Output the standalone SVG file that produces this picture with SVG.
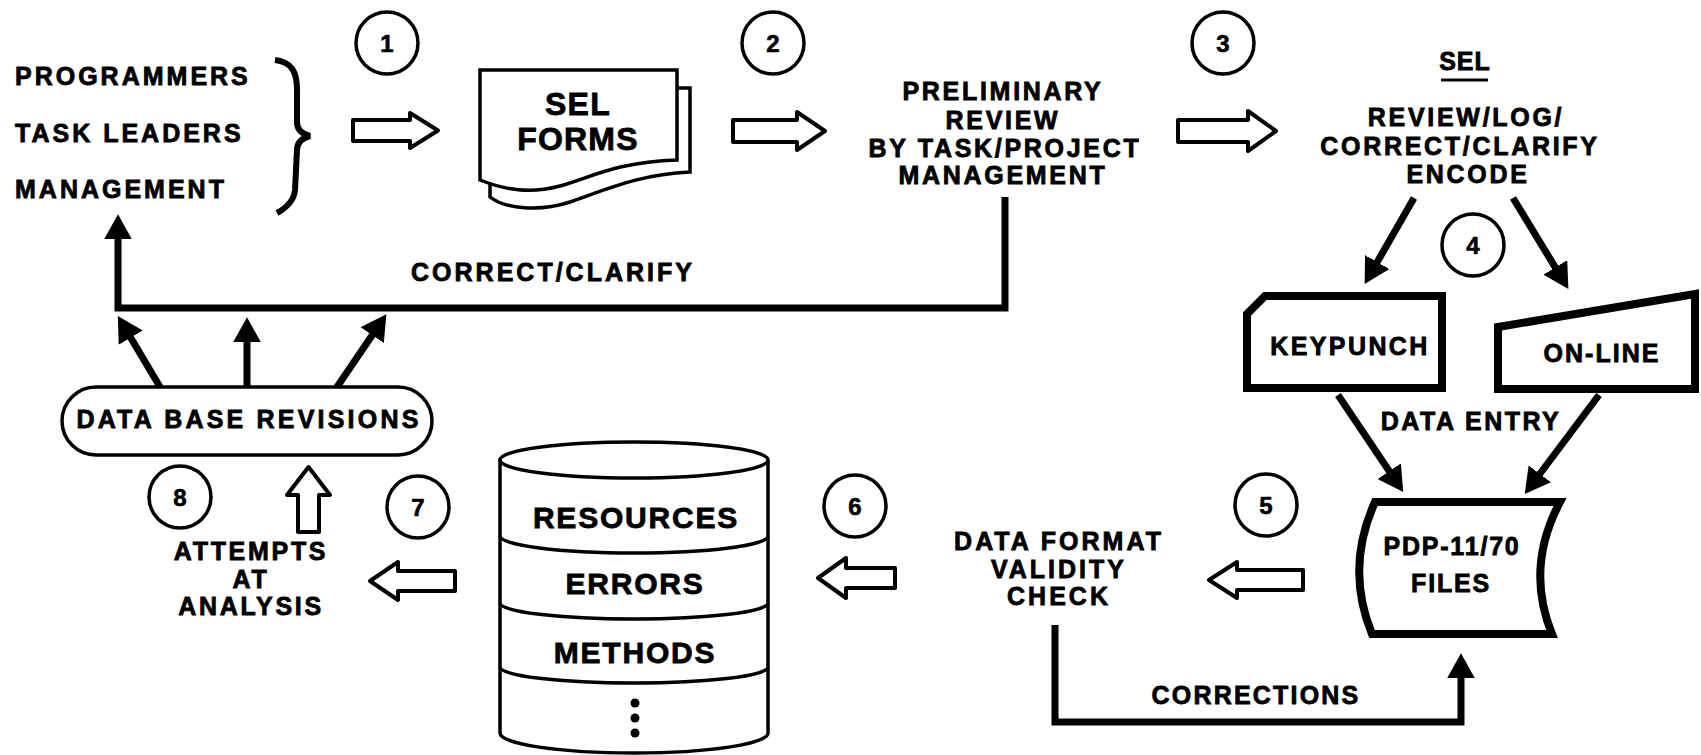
<svg xmlns="http://www.w3.org/2000/svg" width="1701" height="755" viewBox="0 0 1701 755">
<style>
.t{font-family:"Liberation Sans",Arial,sans-serif;font-weight:bold;font-size:25px;fill:#000;stroke:#000;stroke-width:0.8px;letter-spacing:2.7px}
.c{text-anchor:middle}
.num{font-family:"Liberation Sans",Arial,sans-serif;font-weight:bold;font-size:24px;fill:#000;stroke:#000;stroke-width:0.6px;text-anchor:middle}
.ring{fill:none;stroke:#000;stroke-width:3.5}
.hollow{fill:#fff;stroke:#000;stroke-width:4;stroke-linejoin:round}
.thick{fill:none;stroke:#000;stroke-width:7;stroke-linejoin:miter}
.box{fill:#fff;stroke:#000;stroke-width:8;stroke-linejoin:miter}
.thin{fill:#fff;stroke:#000;stroke-width:3.5}
</style>
<defs>
<marker id="ah" markerWidth="4" markerHeight="4" refX="0.2" refY="2" orient="auto" markerUnits="strokeWidth">
<path d="M0,0 L3.6,2 L0,4 Z" fill="#000"/>
</marker>
</defs>
<rect width="1701" height="755" fill="#fff"/>

<g id="sources">
<text class="t" x="15" y="85" style="letter-spacing:3px">PROGRAMMERS</text>
<text class="t" x="15" y="142" style="letter-spacing:3px">TASK LEADERS</text>
<text class="t" x="15" y="198" style="letter-spacing:3px">MANAGEMENT</text>
<path d="M275,60 C292,62 297,72 297,90 L297,122 C297,130 302,134 310,136 C302,138 297,142 297,150 L295,190 C294,200 288,207 277,213" fill="none" stroke="#000" stroke-width="6"/>
</g>

<g id="sel-forms">
<path class="thin" d="M677,88 L690,88 L690,172 C640,174 605,190 570,202 C540,212 505,209 490,197 L490,182"/>
<path class="thin" d="M480,70 L677,70 L677,160 C615,162 590,178 560,186 C530,194 505,190 480,180 Z"/>
<text class="t c" x="578" y="115" style="font-size:32px;letter-spacing:1.2px">SEL</text>
<text class="t c" x="578" y="150" style="font-size:32px;letter-spacing:1.2px">FORMS</text>
</g>

<g id="prelim-review">
<text class="t c" x="1003" y="100">PRELIMINARY</text>
<text class="t c" x="1003" y="129">REVIEW</text>
<text class="t c" x="1005" y="157">BY TASK/PROJECT</text>
<text class="t c" x="1003" y="184">MANAGEMENT</text>
</g>

<g id="sel-review">
<text class="t c" x="1465" y="70" style="letter-spacing:1px">SEL</text>
<line x1="1441" y1="80" x2="1488" y2="80" stroke="#000" stroke-width="3"/>
<text class="t c" x="1466" y="126">REVIEW/LOG/</text>
<text class="t c" x="1460" y="155">CORRECT/CLARIFY</text>
<text class="t c" x="1468" y="183">ENCODE</text>
</g>

<g id="keypunch">
<path class="box" d="M1265,296 L1442,296 L1442,388 L1247,388 L1247,314 Z"/>
<text class="t c" x="1350" y="355" style="letter-spacing:2.4px">KEYPUNCH</text>
</g>

<g id="on-line">
<path class="box" d="M1498,327 L1695,294 L1695,389 L1498,389 Z"/>
<text class="t c" x="1602" y="362" style="letter-spacing:2px">ON-LINE</text>
</g>

<g id="data-entry-label">
<text class="t c" x="1471" y="430" style="letter-spacing:2.5px">DATA ENTRY</text>
</g>

<g id="pdp-files">
<path class="box" d="M1375,502 L1560,502 Q1525,568 1552,634 L1372,634 Q1345,568 1375,502 Z"/>
<text class="t c" x="1452" y="555" style="letter-spacing:1.8px">PDP-11/70</text>
<text class="t c" x="1451" y="592" style="letter-spacing:1.8px">FILES</text>
</g>

<g id="validity-check">
<text class="t c" x="1059" y="550" style="letter-spacing:3px">DATA FORMAT</text>
<text class="t c" x="1059" y="578" style="letter-spacing:3px">VALIDITY</text>
<text class="t c" x="1059" y="605" style="letter-spacing:3px">CHECK</text>
</g>

<g id="database">
<path class="thin" d="M500,460 L500,733 A134 20 0 0 0 768,733 L768,460"/>
<ellipse class="thin" cx="634" cy="460" rx="134" ry="18"/>
<path class="thin" fill="none" d="M500,536 A134 17 0 0 0 768,536"/>
<path class="thin" fill="none" d="M500,603 A134 16 0 0 0 768,603"/>
<path class="thin" fill="none" d="M500,667 A134 16 0 0 0 768,667"/>
<text class="t c" x="636" y="528" style="font-size:30px;letter-spacing:1.8px">RESOURCES</text>
<text class="t c" x="635" y="594" style="font-size:30px;letter-spacing:1.8px">ERRORS</text>
<text class="t c" x="635" y="663" style="font-size:30px;letter-spacing:1.8px">METHODS</text>
<circle cx="635" cy="703" r="4.5" fill="#000"/>
<circle cx="635" cy="718" r="4.5" fill="#000"/>
<circle cx="635" cy="733" r="4.5" fill="#000"/>
</g>

<g id="analysis">
<text class="t c" x="251" y="560">ATTEMPTS</text>
<text class="t c" x="251" y="588">AT</text>
<text class="t c" x="251" y="615">ANALYSIS</text>
</g>

<g id="db-revisions">
<rect class="thin" x="62" y="387" width="370" height="68" rx="34" ry="34"/>
<text class="t c" x="249" y="428" style="letter-spacing:3.2px">DATA BASE REVISIONS</text>
</g>

<g id="step-numbers">
<circle class="ring" cx="387" cy="43" r="31"/><text class="num" x="387" y="52">1</text>
<circle class="ring" cx="773" cy="43" r="31"/><text class="num" x="773" y="52">2</text>
<circle class="ring" cx="1223" cy="43" r="31"/><text class="num" x="1223" y="52">3</text>
<circle class="ring" cx="1473" cy="245" r="31"/><text class="num" x="1473" y="254">4</text>
<circle class="ring" cx="1266" cy="505" r="31"/><text class="num" x="1266" y="514">5</text>
<circle class="ring" cx="855" cy="506" r="31"/><text class="num" x="855" y="515">6</text>
<circle class="ring" cx="418" cy="507" r="31"/><text class="num" x="418" y="516">7</text>
<circle class="ring" cx="180" cy="497" r="31"/><text class="num" x="180" y="506">8</text>
</g>

<g id="connectors">
<path class="hollow" d="M353,120 L410,120 L410,113 L438,130.5 L410,148 L410,141 L353,141 Z"/>
<path class="hollow" d="M733,120 L797,120 L797,112 L825,131 L797,150 L797,142 L733,142 Z"/>
<path class="hollow" d="M1178,120 L1248,120 L1248,111 L1276,131 L1248,151 L1248,142 L1178,142 Z"/>
<path class="hollow" d="M1303,570 L1237,570 L1237,562 L1209,580 L1237,598 L1237,590 L1303,590 Z"/>
<path class="hollow" d="M895,568 L846,568 L846,558 L818,578 L846,598 L846,588 L895,588 Z"/>
<path class="hollow" d="M455,571 L398,571 L398,562 L370,581 L398,600 L398,591 L455,591 Z"/>
<path class="hollow" d="M298,532 L298,495 L287,495 L308.5,467 L330,495 L319,495 L319,532 Z"/>

<path class="thick" d="M1005,197 L1005,308 L118,308 L118,238" marker-end="url(#ah)"/>
<text class="t c" x="553" y="281" style="letter-spacing:3px">CORRECT/CLARIFY</text>

<path class="thick" d="M1055,625 L1055,722 L1461,722 L1461,677" marker-end="url(#ah)"/>
<text class="t c" x="1256" y="704" style="letter-spacing:2.2px">CORRECTIONS</text>

<line class="thick" x1="160" y1="387" x2="130" y2="336.5" stroke-width="6" marker-end="url(#ah)"/>
<line class="thick" x1="247" y1="387" x2="247" y2="341" stroke-width="5" marker-end="url(#ah)"/>
<line class="thick" x1="337" y1="387" x2="373" y2="334" stroke-width="6" marker-end="url(#ah)"/>

<line class="thick" x1="1414" y1="198" x2="1376.5" y2="263.3" marker-end="url(#ah)"/>
<line class="thick" x1="1513" y1="198" x2="1556" y2="268.6" marker-end="url(#ah)"/>
<line class="thick" x1="1338" y1="395" x2="1390" y2="472.3" marker-end="url(#ah)"/>
<line class="thick" x1="1599" y1="395" x2="1539" y2="475" marker-end="url(#ah)"/>
</g>
</svg>
